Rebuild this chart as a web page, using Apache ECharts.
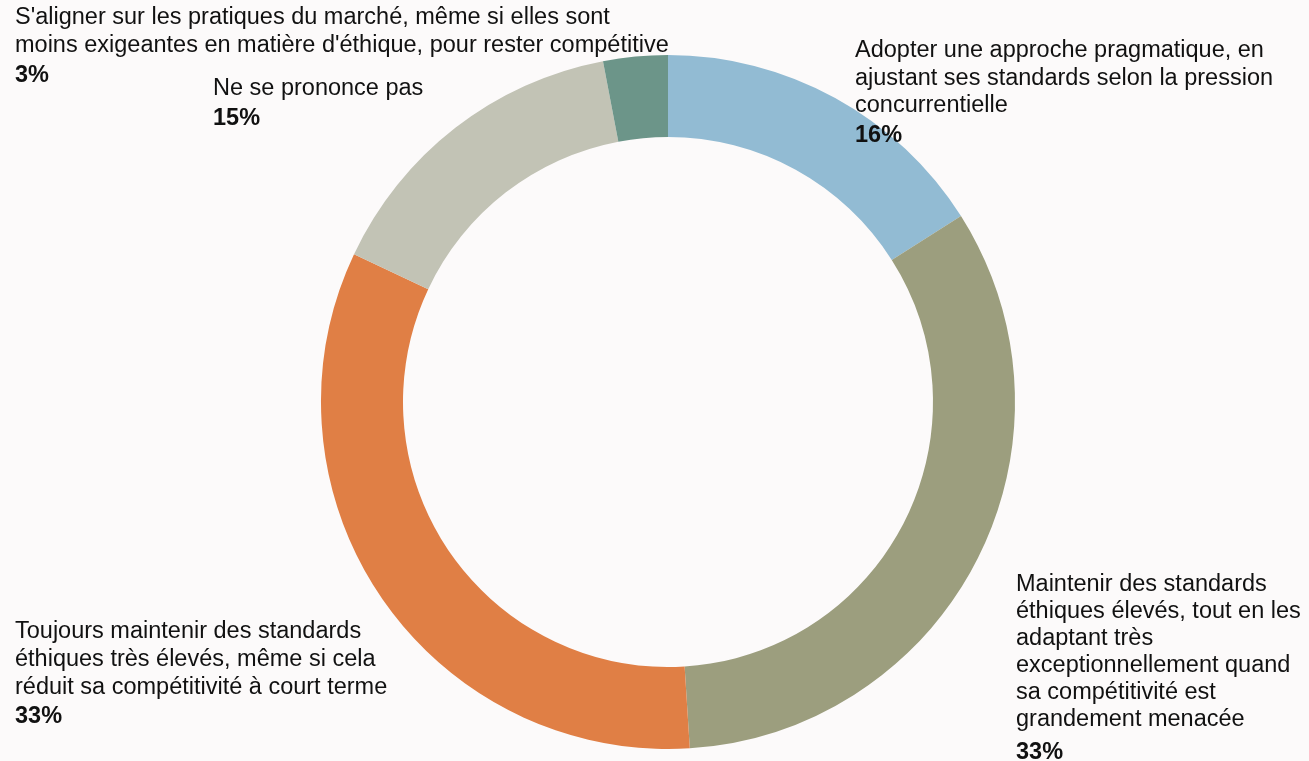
<!DOCTYPE html>
<html>
<head>
<meta charset="utf-8">
<script src="https://cdn.jsdelivr.net/npm/echarts@6/dist/echarts.min.js"></script>
<style>
  html, body { margin: 0; padding: 0; background: #fcfafa; }
  #chart { width: 1309px; height: 761px; }
</style>
</head>
<body>
<div id="chart"></div>
<script>
// Survey answers, clockwise from 12 o'clock
const categories = [
  "Adopter une approche pragmatique, en\najustant ses standards selon la pression\nconcurrentielle",
  "Maintenir des standards\néthiques élevés, tout en les\nadaptant très\nexceptionnellement quand\nsa compétitivité est\ngrandement menacée",
  "Toujours maintenir des standards\néthiques très élevés, même si cela\nréduit sa compétitivité à court terme",
  "Ne se prononce pas",
  "S'aligner sur les pratiques du marché, même si elles sont\nmoins exigeantes en matière d'éthique, pour rester compétitive"
];
const values = [16, 33, 33, 15, 3];
const colors = ["#92bbd3", "#9c9e7e", "#e07f45", "#c2c3b5", "#6c9589"];

// Label block placement: top-left anchor, text line height, height of the percentage line
const labelAnchors = [
  [855, 37],
  [1016, 571],
  [15, 617],
  [213, 75],
  [15, 3.5]
];
const nameLineHeights = [27.5, 27, 28.3, 28, 28.3];
const valueLineHeights = [32.5, 39.6, 28.3, 30.6, 31.7];

const FONT = 'Liberation Sans, Arial, sans-serif';
const FONT_SIZE = 23.5;

const chart = echarts.init(document.getElementById('chart'));

chart.setOption({
  backgroundColor: '#fcfafa',
  animation: false,
  series: [{
    type: 'pie',
    center: [668, 402],
    radius: [265, 347],
    startAngle: 90,
    clockwise: true,
    avoidLabelOverlap: false,
    data: categories.map((name, i) => ({
      name: name,
      value: values[i],
      itemStyle: { color: colors[i] },
      label: {
        rich: {
          n: { fontFamily: FONT, fontSize: FONT_SIZE, lineHeight: nameLineHeights[i], color: '#111111' },
          v: { fontFamily: FONT, fontSize: FONT_SIZE, fontWeight: 'bold', lineHeight: valueLineHeights[i], color: '#111111' }
        }
      }
    })),
    itemStyle: { borderWidth: 0 },
    emphasis: { disabled: true },
    labelLine: { show: false },
    label: {
      show: true,
      position: 'outside',
      formatter: p => p.name.split('\n').map(l => '{n|' + l + '}').join('\n') + '\n{v|' + p.value + '%}'
    },
    labelLayout: p => ({
      x: labelAnchors[p.dataIndex][0],
      y: labelAnchors[p.dataIndex][1],
      align: 'left',
      verticalAlign: 'top'
    })
  }]
});
</script>
</body>
</html>
